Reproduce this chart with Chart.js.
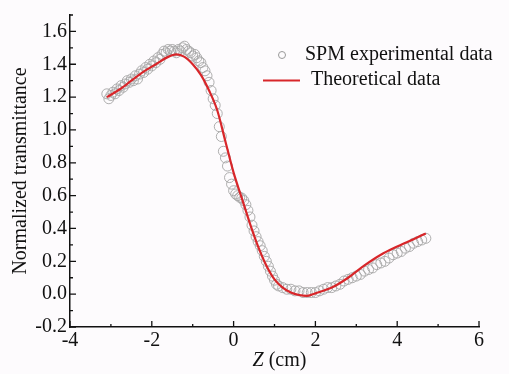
<!DOCTYPE html>
<html>
<head>
<meta charset="utf-8">
<script src="https://cdn.jsdelivr.net/npm/chart.js@4.4.0/dist/chart.umd.min.js"></script>
<style>
  html, body { margin: 0; padding: 0; background: #fdfbfd; }
  #wrap { width: 509px; height: 374px; }
</style>
</head>
<body>
<div id="wrap"><canvas id="chart" width="509" height="374"></canvas></div>
<script>
// SPM experimental data (Z in cm, normalized transmittance)
const expZ = [-3.10, -3.05, -3.00, -2.95, -2.90, -2.85, -2.80, -2.75, -2.70, -2.65,
  -2.60, -2.55, -2.50, -2.45, -2.40, -2.35, -2.30, -2.25, -2.20, -2.15,
  -2.10, -2.05, -2.00, -1.95, -1.90, -1.85, -1.80, -1.75, -1.70, -1.65,
  -1.60, -1.55, -1.50, -1.45, -1.40, -1.35, -1.30, -1.25, -1.20, -1.15,
  -1.10, -1.05, -1.00, -0.95, -0.90, -0.85, -0.80, -0.75, -0.70, -0.65,
  -0.60, -0.55, -0.50, -0.45, -0.40, -0.35, -0.30, -0.25, -0.20, -0.15,
  -0.10, -0.05, 0.00, 0.05, 0.10, 0.15, 0.20, 0.25, 0.30, 0.35,
  0.40, 0.45, 0.50, 0.55, 0.60, 0.65, 0.70, 0.75, 0.80, 0.85,
  0.90, 0.95, 1.00, 1.05, 1.10, 1.20, 1.30, 1.40, 1.50, 1.60,
  1.70, 1.80, 1.90, 2.00, 2.10, 2.20, 2.30, 2.40, 2.50, 2.60,
  2.70, 2.80, 2.90, 3.00, 3.10, 3.20, 3.30, 3.40, 3.50, 3.60,
  3.70, 3.80, 3.90, 4.00, 4.10, 4.20, 4.30, 4.40, 4.50, 4.60, 4.70];
const expT = [1.22, 1.19, 1.21, 1.23, 1.22, 1.25, 1.24, 1.27, 1.26, 1.28,
  1.30, 1.29, 1.31, 1.30, 1.33, 1.31, 1.34, 1.36, 1.35, 1.38,
  1.37, 1.40, 1.39, 1.42, 1.41, 1.44, 1.43, 1.46, 1.48, 1.47,
  1.49, 1.48, 1.49, 1.48, 1.47, 1.49, 1.48, 1.50, 1.51, 1.49,
  1.48, 1.47, 1.45, 1.46, 1.44, 1.42, 1.41, 1.38, 1.36, 1.33,
  1.29, 1.24, 1.19, 1.15, 1.10, 1.02, 0.96, 0.87, 0.83, 0.78,
  0.71, 0.67, 0.63, 0.61, 0.60, 0.59, 0.585, 0.57, 0.545, 0.51,
  0.47, 0.42, 0.385, 0.35, 0.32, 0.295, 0.265, 0.23, 0.20, 0.17,
  0.14, 0.11, 0.085, 0.06, 0.05, 0.04, 0.03, 0.03, 0.02, 0.02,
  0.01, 0.01, 0.01, 0.01, 0.02, 0.03, 0.04, 0.04, 0.05, 0.06,
  0.08, 0.09, 0.10, 0.11, 0.12, 0.14, 0.15, 0.16, 0.18, 0.19,
  0.20, 0.22, 0.24, 0.25, 0.26, 0.28, 0.29, 0.31, 0.32, 0.33, 0.34];

// Theoretical curve
const theoZ = [-3.1, -2.8, -2.5, -2.2, -1.9, -1.6, -1.4, -1.2, -1.0, -0.8,
  -0.6, -0.4, -0.2, 0.0, 0.2, 0.4, 0.6, 0.8, 1.0, 1.2,
  1.4, 1.6, 1.8, 2.0, 2.4, 2.8, 3.2, 3.6, 4.0, 4.4, 4.7];
const theoT = [1.20, 1.245, 1.30, 1.355, 1.40, 1.445, 1.46, 1.445, 1.40, 1.335,
  1.24, 1.12, 0.93, 0.74, 0.585, 0.43, 0.29, 0.175, 0.09, 0.04,
  0.01, -0.005, -0.01, 0.005, 0.04, 0.10, 0.175, 0.24, 0.29, 0.335, 0.37];

const xTicks = [-4, -2, 0, 2, 4, 6];
const xMinor = [-3, -1, 1, 3, 5];
const yTicks = [-0.2, 0.0, 0.2, 0.4, 0.6, 0.8, 1.0, 1.2, 1.4, 1.6];
const yMinor = [-0.1, 0.1, 0.3, 0.5, 0.7, 0.9, 1.1, 1.3, 1.5, 1.7];
const legendLabels = ["SPM experimental data", "Theoretical data"];

const serif = "'Liberation Serif', 'Times New Roman', serif";
const ink = "#111";
const red = "#d8262a";
const circleGray = "#a6a6a6";

const toPoints = (xs, ys) => xs.map((v, i) => ({ x: v, y: ys[i] }));

const decor = {
  id: "decor",
  afterDraw(chart) {
    const { ctx, chartArea } = chart;
    const x = chart.scales.x;
    const y = chart.scales.y;
    ctx.save();

    // inward tick marks
    ctx.strokeStyle = ink;
    ctx.lineWidth = 1.3;
    ctx.beginPath();
    xTicks.forEach(v => {
      const px = x.getPixelForValue(v);
      ctx.moveTo(px, chartArea.bottom);
      ctx.lineTo(px, chartArea.bottom - 6);
    });
    xMinor.forEach(v => {
      const px = x.getPixelForValue(v);
      ctx.moveTo(px, chartArea.bottom);
      ctx.lineTo(px, chartArea.bottom - 3);
    });
    yTicks.forEach(v => {
      const py = y.getPixelForValue(v);
      ctx.moveTo(chartArea.left, py);
      ctx.lineTo(chartArea.left + 6, py);
    });
    yMinor.forEach(v => {
      const py = y.getPixelForValue(v);
      ctx.moveTo(chartArea.left, py);
      ctx.lineTo(chartArea.left + 3, py);
    });
    ctx.stroke();

    // axis titles
    ctx.fillStyle = ink;
    ctx.textBaseline = "alphabetic";
    ctx.font = "italic 20px " + serif;
    const zW = ctx.measureText("Z").width;
    ctx.font = "20px " + serif;
    const restW = ctx.measureText(" (cm)").width;
    const cx = (chartArea.left + chartArea.right) / 2 + 5;
    let tx = cx - (zW + restW) / 2;
    ctx.font = "italic 20px " + serif;
    ctx.textAlign = "left";
    ctx.fillText("Z", tx, 366);
    ctx.font = "20px " + serif;
    ctx.fillText(" (cm)", tx + zW, 366);

    ctx.save();
    ctx.translate(21, (chartArea.top + chartArea.bottom) / 2);
    ctx.rotate(-Math.PI / 2);
    ctx.textAlign = "center";
    ctx.textBaseline = "middle";
    ctx.fillText("Normalized transmittance", 0, 0);
    ctx.restore();

    // legend
    ctx.textAlign = "left";
    ctx.textBaseline = "middle";
    ctx.strokeStyle = "#999";
    ctx.lineWidth = 1;
    ctx.beginPath();
    ctx.arc(282, 55, 3.5, 0, Math.PI * 2);
    ctx.stroke();
    ctx.fillText(legendLabels[0], 305, 55);
    ctx.strokeStyle = red;
    ctx.lineWidth = 2;
    ctx.beginPath();
    ctx.moveTo(263, 80.5);
    ctx.lineTo(300, 80.5);
    ctx.stroke();
    ctx.fillText(legendLabels[1], 311, 80);

    ctx.restore();
  }
};

new Chart(document.getElementById("chart"), {
  type: "scatter",
  data: {
    datasets: [
      {
        label: legendLabels[1],
        data: toPoints(theoZ, theoT),
        showLine: true,
        borderColor: red,
        borderWidth: 2.2,
        pointRadius: 0,
        cubicInterpolationMode: "monotone",
        order: 0
      },
      {
        label: legendLabels[0],
        data: toPoints(expZ, expT),
        pointStyle: "circle",
        pointRadius: 5,
        backgroundColor: "rgba(0,0,0,0)",
        borderColor: circleGray,
        borderWidth: 0.9,
        order: 1
      }
    ]
  },
  options: {
    responsive: false,
    devicePixelRatio: 1,
    animation: false,
    layout: { padding: { top: 9, right: 30, left: 0, bottom: 0 } },
    plugins: {
      legend: { display: false },
      tooltip: { enabled: false }
    },
    scales: {
      x: {
        type: "linear",
        min: -4,
        max: 6,
        afterBuildTicks: (scale) => { scale.ticks = xTicks.map(v => ({ value: v })); },
        afterFit: (scale) => { scale.height = 47; },
        grid: { display: false, drawTicks: false, tickLength: 0 },
        border: { display: true, color: ink, width: 1.5 },
        ticks: {
          color: ink,
          padding: 2,
          font: { family: serif, size: 20 },
          callback: (v) => String(v)
        }
      },
      y: {
        type: "linear",
        min: -0.2,
        max: 1.7,
        afterBuildTicks: (scale) => { scale.ticks = yTicks.map(v => ({ value: v })); },
        afterFit: (scale) => { scale.width = 70; },
        grid: { display: false, drawTicks: false, tickLength: 0 },
        border: { display: true, color: ink, width: 1.5 },
        ticks: {
          color: ink,
          padding: 3,
          font: { family: serif, size: 20 },
          callback: (v) => Number(v).toFixed(1)
        }
      }
    }
  },
  plugins: [decor]
});
</script>
</body>
</html>
